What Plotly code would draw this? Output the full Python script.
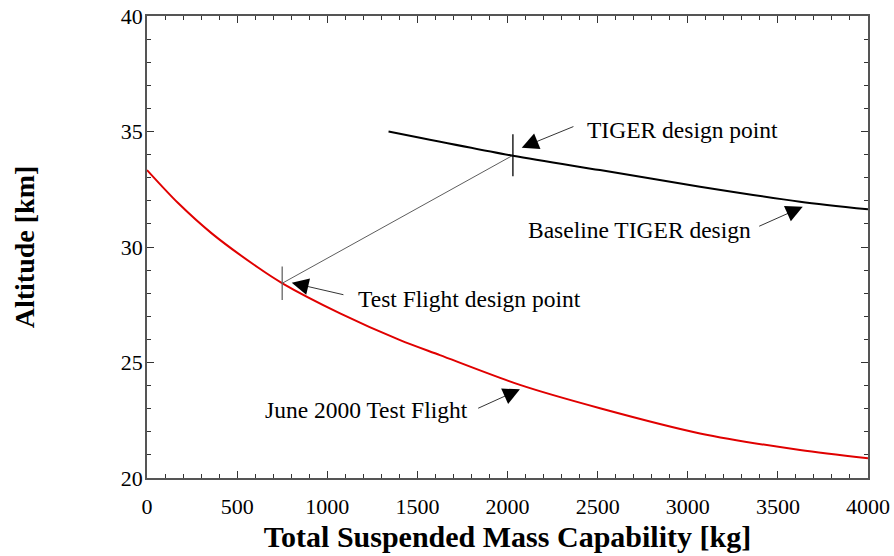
import plotly.graph_objects as go

# Data
test_mass = [0, 174, 359, 618, 751, 1071, 1404, 1625, 2069, 2513, 3068, 3623, 4000]
test_alt = [33.33, 31.89, 30.59, 29.10, 28.43, 27.13, 25.97, 25.32, 24.03, 23.02, 21.93, 21.21, 20.85]

tiger_mass = [1340, 2030, 2513, 3068, 3623, 4000]
tiger_alt = [35.0, 33.95, 33.33, 32.61, 31.96, 31.63]

design_mass = [750, 2030]
design_alt = [28.43, 33.97]

x_ticks = [0, 500, 1000, 1500, 2000, 2500, 3000, 3500, 4000]
y_ticks = [20, 25, 30, 35, 40]

FONT = "Liberation Serif"

fig = go.Figure()

fig.add_trace(go.Scatter(x=test_mass, y=test_alt, mode="lines",
                         line=dict(color="#e00000", width=2, shape="spline", smoothing=0.8),
                         showlegend=False, hoverinfo="skip"))
fig.add_trace(go.Scatter(x=tiger_mass, y=tiger_alt, mode="lines",
                         line=dict(color="black", width=2, shape="spline", smoothing=0.8),
                         showlegend=False, hoverinfo="skip"))
# connecting line between design points
fig.add_trace(go.Scatter(x=design_mass, y=design_alt, mode="lines",
                         line=dict(color="#333333", width=0.8),
                         showlegend=False, hoverinfo="skip"))
# design point tick marks
fig.add_trace(go.Scatter(x=[design_mass[0]], y=[design_alt[0]], mode="markers",
                         marker=dict(symbol="line-ns", size=24, line=dict(color="#666666", width=1.3)),
                         showlegend=False, hoverinfo="skip"))
fig.add_trace(go.Scatter(x=[design_mass[1]], y=[design_alt[1]], mode="markers",
                         marker=dict(symbol="line-ns", size=30, line=dict(color="black", width=1.3)),
                         showlegend=False, hoverinfo="skip"))

labels = [
    # text, text_x, text_y, head_x, head_y, tail_x, tail_y
    ("TIGER design point", 2430, 35.06, 2079, 34.30, 2374, 35.24),
    ("Test Flight design point", 1160, 27.75, 803, 28.45, 1098, 27.92),
    ("Baseline TIGER design", 2103, 30.74, 3638, 31.74, 3388, 30.87),
    ("June 2000 Test Flight", 644, 22.94, 2069, 23.84, 1829, 22.99),
]

annotations = []
for text, tx, ty, hx, hy, ax, ay in labels:
    annotations.append(dict(x=tx, y=ty, xref="x", yref="y", text=text, showarrow=False,
                            xanchor="left", yanchor="middle",
                            font=dict(family=FONT, size=23.5, color="black")))
    annotations.append(dict(x=hx, y=hy, xref="x", yref="y", ax=ax, ay=ay, axref="x", ayref="y",
                            text="", showarrow=True, arrowhead=2, arrowsize=4.2, arrowwidth=0.8,
                            arrowcolor="black", standoff=0, startstandoff=0))

axis_common = dict(
    showgrid=False, zeroline=False, showline=True, linecolor="#555555", linewidth=1.5,
    mirror="allticks", ticks="inside", ticklen=7, tickwidth=1.2, tickcolor="#333333",
    tickfont=dict(family=FONT, size=22, color="black"), automargin=False,
)

fig.update_layout(
    width=894, height=556,
    margin=dict(l=147, r=26, t=16, b=78),
    paper_bgcolor="white", plot_bgcolor="white",
    xaxis=dict(range=[0, 4000], tickvals=x_ticks, ticktext=[str(v) for v in x_ticks],
               ticklabelstandoff=8,
               minor=dict(dtick=100, ticks="inside", ticklen=4, tickwidth=1, tickcolor="#333333"),
               title=dict(text="Total Suspended Mass Capability [kg]", standoff=8,
                          font=dict(family=FONT, size=30, color="black", weight="bold")),
               **axis_common),
    yaxis=dict(range=[20, 40], tickvals=y_ticks, ticktext=[str(v) for v in y_ticks],
               ticklabelstandoff=-2,
               minor=dict(dtick=1, ticks="inside", ticklen=4, tickwidth=1, tickcolor="#333333"),
               title=dict(text="Altitude [km]", standoff=78,
                          font=dict(family=FONT, size=28, color="black", weight="bold")),
               **axis_common),
    annotations=annotations,
)

fig.write_html("out.html")
